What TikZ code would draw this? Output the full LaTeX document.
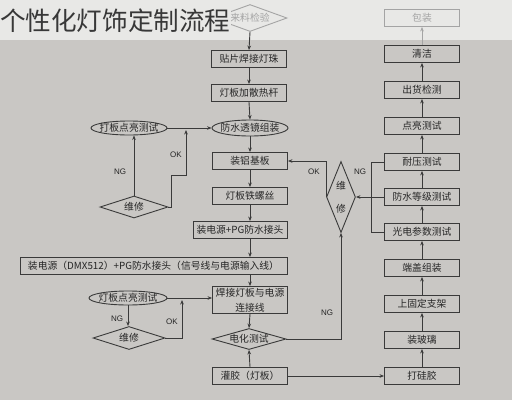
\documentclass[tikz,border=0pt]{standalone}
\usepackage{fontspec}
\setmainfont{Liberation Sans}
\newfontfamily\cjk{Noto Sans CJK SC}
\usetikzlibrary{shapes.geometric,arrows.meta}
\definecolor{topbg}{HTML}{E8E8E6}
\definecolor{bodybg}{HTML}{C9C7C4}
\definecolor{linec}{HTML}{3A3A3A}
\definecolor{txt}{HTML}{262626}
\definecolor{faded}{HTML}{A4A4A4}
\begin{document}
\begin{tikzpicture}[x=1pt,y=-1pt,
 cjkfont/.style={font=\cjk\fontsize{9.8}{15}\selectfont, text=txt},
 box/.style={draw=linec, line width=0.9pt, minimum width=75pt, minimum height=17pt, inner sep=0pt, cjkfont},
 ell/.style={ellipse, draw=linec, line width=0.9pt, inner sep=0pt},
 dia/.style={diamond, draw=linec, line width=0.9pt, inner sep=0pt},
 lbl/.style={font=\fontsize{8}{9}\selectfont, text=txt, inner sep=0pt},
 arr/.style={draw=linec, line width=0.9pt, -{Stealth[length=4.5pt,width=3.6pt]}},
 ln/.style={draw=linec, line width=0.9pt}
]
\fill[bodybg] (0,0) rectangle (512,400);
\fill[topbg] (0,0) rectangle (512,40);
\useasboundingbox (0,0) rectangle (512,400);

% ---- left column ----
\node[dia, draw=faded, minimum width=74pt, minimum height=27pt] (lai) at (250,18) {};
\node[cjkfont, text=faded] (laitxt) at (lai) {来料检验};
\node[box] (tiepian) at (249,59) {贴片焊接灯珠};
\node[box] (jiare) at (249,93) {灯板加散热杆};
\node[ell, minimum width=76pt, minimum height=16pt] (fangshui) at (250,128) {};
\node[cjkfont] (fangshuitxt) at (fangshui) {防水透镜组装};
\node[box] (lvjiban) at (250,161) {装铝基板};
\node[box] (luosi) at (250,196) {灯板铁螺丝};
\node[box, minimum width=94pt] (pg) at (240,230) {装电源+PG防水接头};
\node[box, minimum width=267pt] (wide) at (153.5,266) {装电源（DMX512）+PG防水接头（信号线与电源输入线）};
\node[box, minimum height=27pt, align=center] (hanjie) at (250,300) {焊接灯板与电源\\连接线};
\node[dia, minimum width=74pt, minimum height=21pt] (dianhua) at (249,339) {};
\node[cjkfont] (dianhuatxt) at (dianhua) {电化测试};
\node[box] (guanjiao) at (250,376) {灌胶（灯板）};

% ---- left loops ----
\node[ell, minimum width=76pt, minimum height=14pt] (e1) at (129,128) {};
\node[cjkfont] (e1txt) at (e1) {打板点亮测试};
\node[dia, minimum width=68pt, minimum height=22pt] (w1) at (134,207) {};
\node[cjkfont] (w1txt) at (w1) {维修};
\node[ell, minimum width=78pt, minimum height=14pt] (e2) at (128,298) {};
\node[cjkfont] (e2txt) at (e2) {灯板点亮测试};
\node[dia, minimum width=72pt, minimum height=23pt] (w2) at (129,338) {};
\node[cjkfont] (w2txt) at (w2) {维修};

% ---- right column ----
\node[box, draw=faded, text=faded] (baozhuang) at (422,18) {包装};
\node[box] (qingjie) at (422,54) {清洁};
\node[box] (chuhuo) at (422,90) {出货检测};
\node[box] (dianliang) at (422,126) {点亮测试};
\node[box] (naiya) at (422,162) {耐压测试};
\node[box] (fsdj) at (422,197) {防水等级测试};
\node[box] (guangdian) at (422,232) {光电参数测试};
\node[box] (duangai) at (422,268) {端盖组装};
\node[box] (zhijia) at (422,304) {上固定支架};
\node[box] (boli) at (422,340) {装玻璃};
\node[box] (dagui) at (422,376) {打硅胶};

\node[dia, minimum width=29pt, minimum height=71pt] (wR) at (341,197) {};
\node[cjkfont] (wRa) at (341,186) {维};
\node[cjkfont] (wRb) at (341,209) {修};

% title (covers part of the faded diamond)
\node[anchor=west, inner sep=0pt, fill=topbg, font=\cjk\fontsize{25.6}{28}\selectfont, text=black!78] (title) at (0,21) {个性化灯饰定制流程};

% ---- connectors: left column ----
\draw[arr] (lai.south) -- (tiepian.north);
\draw[arr] (tiepian.south) -- (jiare.north);
\draw[arr] (jiare.south) -- (fangshui.north);
\draw[arr] (fangshui.south) -- (lvjiban.north);
\draw[arr] (lvjiban.south) -- (luosi.north);
\draw[arr] (luosi.south) -- (luosi.south |- pg.north);
\draw[arr] (luosi.south |- pg.south) -- (luosi.south |- wide.north);
\draw[arr] (luosi.south |- wide.south) -- (hanjie.north);
\draw[arr] (hanjie.south) -- (dianhua.north);
\draw[arr] (guanjiao.north) -- (dianhua.south);
\draw[arr] (guanjiao.east) -- (dagui.west);

% loop 1
\coordinate (ok1a) at (171,175);
\coordinate (ok1b) at (186,130);
\draw[arr] (e1.east) -- (fangshui.west);
\draw[arr] (w1.north) -- (w1.north |- e1.south);
\draw[arr] (w1.east) -| (ok1a) -| (ok1b);
\node[lbl] (ng1) at (120,172) {NG};
\node[lbl] (ok1) at (176,155) {OK};

% loop 2
\coordinate (ok2) at (182,300);
\draw[arr] (e2.east) -- (e2.east -| hanjie.west);
\draw[arr] (e2.south) -- (e2.south |- w2.north);
\draw[arr] (w2.east) -| (ok2);
\node[lbl] (ng2) at (117,319) {NG};
\node[lbl] (ok2l) at (172,322) {OK};

% ---- connectors: right column ----
\draw[arr] (dagui.north) -- (boli.south);
\draw[arr] (boli.north) -- (zhijia.south);
\draw[arr] (zhijia.north) -- (duangai.south);
\draw[arr] (duangai.north) -- (guangdian.south);
\draw[arr] (guangdian.north) -- (fsdj.south);
\draw[arr] (fsdj.north) -- (naiya.south);
\draw[arr] (naiya.north) -- (dianliang.south);
\draw[arr] (dianliang.north) -- (chuhuo.south);
\draw[arr] (chuhuo.north) -- (qingjie.south);
\draw[arr, draw=faded] (qingjie.north) -- (baozhuang.south);

\draw[ln] (naiya.west) -- ++(-13,0) |- (guangdian.west);
\draw[arr] (fsdj.west) -- (wR.east);
\draw[arr] (wR.west) |- (lvjiban.east);
\draw[arr] (dianhua.east) -| (wR.south);
\node[lbl] (ngR) at (360,172) {NG};
\node[lbl] (okR) at (314,172) {OK};
\node[lbl] (ngB) at (327,313) {NG};
\end{tikzpicture}
\end{document}
